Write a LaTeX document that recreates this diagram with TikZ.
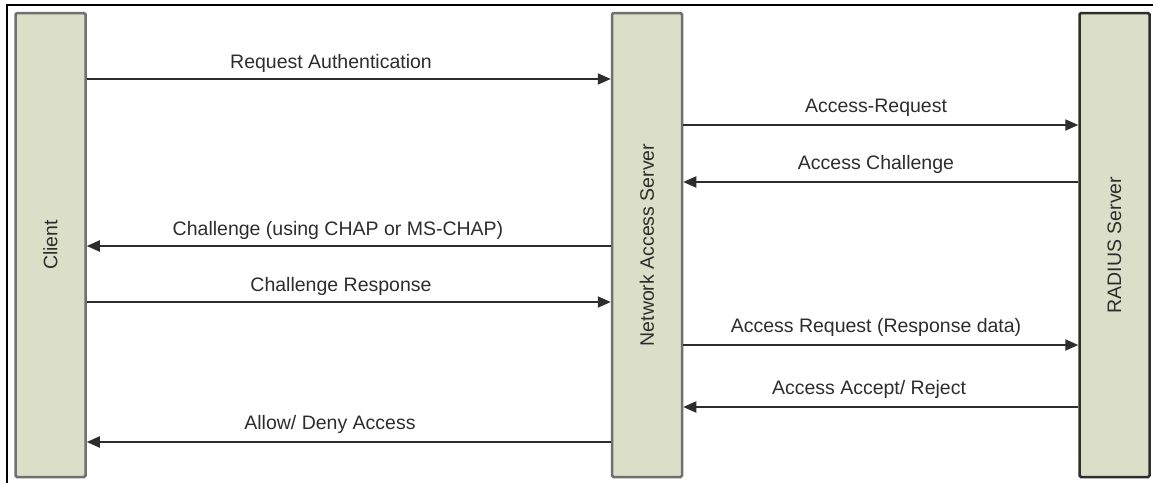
\documentclass[tikz,border=0pt]{standalone}
\usepackage{fontspec}
\setmainfont{Liberation Sans}
\usetikzlibrary{arrows.meta}
\definecolor{boxfill}{RGB}{220,223,200}
\definecolor{boxline}{RGB}{112,112,112}
\definecolor{ink}{RGB}{45,45,45}
\tikzset{
  lifebox/.style={draw=boxline, line width=2.5pt, fill=boxfill, minimum width=70pt, minimum height=464pt, inner sep=0pt, rounded corners=1.5pt},
  boxlabel/.style={rotate=90, text=ink, font=\fontsize{19.5}{22}\selectfont},
  msg/.style={draw=ink, line width=2pt, -{Triangle[length=13pt,width=11pt]}},
  msglabel/.style={anchor=base, text=ink, font=\fontsize{19.5}{22}\selectfont, inner sep=0pt}
}
\begin{document}
\begin{tikzpicture}[x=1pt,y=-1pt]
\useasboundingbox (0,0) rectangle (1153,482);
\clip (0,0) rectangle (1153,482);
\fill[white] (0,0) rectangle (1153,482);
\draw[line width=2.5pt, black] (7,500) -- (7,5) -- (1170,5);
\node[lifebox] (client) at (50.5,245) {};
\node[lifebox] (nas) at (647,245) {};
\node[lifebox, draw=ink] (radius) at (1114.5,245) {};
\node[boxlabel] (clientlbl) at (client.center) {Client};
\node[boxlabel] (naslbl) at (nas.center) {Network Access Server};
\node[boxlabel] (radiuslbl) at (radius.center) {RADIUS Server};
\foreach \n/\y in {r1/79,r2/125,r3/182,r4/246,r5/302,r6/345,r7/407,r8/442}
  \coordinate (\n) at (0,\y);
\draw[msg] (client.east |- r1) -- (nas.west |- r1);
\draw[msg] (nas.east |- r2) -- (radius.west |- r2);
\draw[msg] (radius.west |- r3) -- (nas.east |- r3);
\draw[msg] (nas.west |- r4) -- (client.east |- r4);
\draw[msg] (client.east |- r5) -- (nas.west |- r5);
\draw[msg] (nas.east |- r6) -- (radius.west |- r6);
\draw[msg] (radius.west |- r7) -- (nas.east |- r7);
\draw[msg] (nas.west |- r8) -- (client.east |- r8);
\node[msglabel] (l1) at (331,68) {Request Authentication};
\node[msglabel] (l2) at (876,112) {Access-Request};
\node[msglabel] (l3) at (876,169) {Access Challenge};
\node[msglabel] (l4) at (338,235) {Challenge (using CHAP or MS-CHAP)};
\node[msglabel] (l5) at (341,291) {Challenge Response};
\node[msglabel] (l6) at (876,332) {Access Request (Response data)};
\node[msglabel] (l7) at (869,394) {Access Accept/ Reject};
\node[msglabel] (l8) at (330,429) {Allow/ Deny Access};
\end{tikzpicture}
\end{document}
